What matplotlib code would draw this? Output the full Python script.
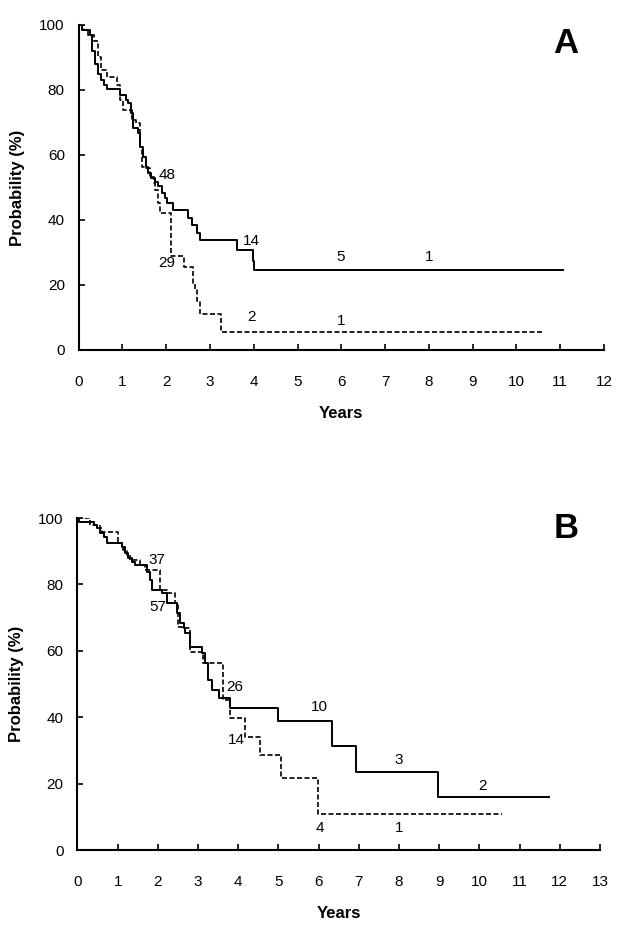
import numpy as np
import matplotlib
matplotlib.use("Agg")
import matplotlib.pyplot as plt

plt.rcParams['font.family'] = ['Liberation Sans', 'DejaVu Sans']

# ---- Panel A : survival curves (years, probability %) ----
a_solid_t = [0, 0.08, 0.25, 0.30, 0.37, 0.45, 0.52, 0.58, 0.64, 0.94, 1.07, 1.13,
             1.20, 1.25, 1.36, 1.40, 1.48, 1.54, 1.59, 1.65, 1.74, 1.82, 1.90, 1.97,
             2.01, 2.16, 2.49, 2.58, 2.70, 2.77, 3.61, 3.98, 4.01]
a_solid_v = [100, 98.5, 97, 92, 88, 85, 83, 81.5, 80.3, 78.5, 76.9, 75.9,
             72.8, 68.2, 66.7, 62.6, 59.5, 56.4, 54.4, 52.8, 51.8, 50.3, 48.2, 46.7,
             45.1, 43.0, 40.5, 38.5, 35.9, 33.8, 30.8, 27.5, 24.6]
a_solid_end = 11.07

a_dash_t = [0, 0.10, 0.22, 0.35, 0.45, 0.50, 0.64, 0.87, 0.94, 1.02, 1.21, 1.31,
            1.40, 1.44, 1.54, 1.63, 1.71, 1.74, 1.82, 1.86, 2.12, 2.40, 2.62, 2.66,
            2.71, 2.77, 3.25]
a_dash_v = [100, 98.5, 97, 95, 90, 86, 84.1, 81.5, 76.9, 73.8, 70.8, 69.8,
            62.6, 56.4, 55.9, 53.3, 51.3, 49.2, 45.1, 42.1, 29.0, 25.6, 20.5, 18.5,
            15.0, 11.2, 5.5]
a_dash_end = 10.58

a_labels = ["48", "29", "14", "5", "1", "2", "1"]
a_lab_t = [2.02, 2.01, 3.95, 5.99, 8.01, 3.95, 5.99]
a_lab_v = [53.8, 26.7, 33.6, 28.5, 28.5, 10.0, 9.0]

# ---- Panel B ----
b_solid_t = [0, 0.05, 0.40, 0.48, 0.56, 0.65, 0.73, 1.10, 1.19, 1.27, 1.35, 1.43,
             1.74, 1.81, 1.85, 2.10, 2.24, 2.47, 2.55, 2.64, 2.68, 2.80, 3.09, 3.18,
             3.26, 3.34, 3.51, 3.80, 4.98, 6.33, 6.93, 8.96]
b_solid_v = [100, 98.8, 97.9, 96.9, 95.4, 94.4, 92.4, 91.4, 89.4, 87.9, 86.8, 85.8,
             83.8, 81.3, 78.3, 77.3, 74.3, 71.3, 68.3, 66.8, 65.3, 61.2, 59.2, 56.2,
             51.2, 48.2, 45.7, 42.7, 39.0, 31.3, 23.4, 16.0]
b_solid_end = 11.74

b_dash_t = [0, 0.31, 0.56, 0.60, 1.00, 1.10, 1.14, 1.23, 1.31, 1.56, 1.68, 2.06,
            2.22, 2.43, 2.51, 2.60, 2.80, 3.13, 3.61, 3.80, 4.17, 4.54, 5.06, 5.98]
b_dash_v = [100, 97.9, 96.9, 95.9, 92.4, 91.4, 90.4, 88.9, 87.3, 85.8, 84.3, 78.3,
            77.3, 74.3, 67.3, 66.8, 59.7, 56.2, 45.2, 39.9, 34.1, 28.6, 21.6, 10.9]
b_dash_end = 10.55

b_labels = ["37", "57", "26", "14", "10", "3", "2", "4", "1"]
b_lab_t = [1.97, 1.99, 3.92, 3.95, 6.03, 8.0, 10.08, 6.02, 8.0]
b_lab_v = [87.3, 73.1, 49.0, 33.1, 43.0, 27.1, 19.3, 6.5, 6.5]


def km(ax, t, v, end, **kw):
    tt = list(t) + [end]
    vv = list(v) + [v[-1]]
    ax.step(tt, vv, where="post", color="black", **kw)


def style(ax, xmax):
    ax.set_xlim(0, xmax)
    ax.set_ylim(0, 100)
    ax.set_xticks(range(0, xmax + 1))
    ax.set_yticks(range(0, 101, 20))
    for s in ["top", "right"]:
        ax.spines[s].set_visible(False)
    for s in ["left", "bottom"]:
        ax.spines[s].set_linewidth(1.5)
    ax.tick_params(axis="x", direction="in", length=4, width=1.2, pad=18, labelsize=11)
    ax.tick_params(axis="y", direction="in", length=4, width=1.2, pad=10, labelsize=11)
    ax.set_xlabel("Years", fontsize=12, fontweight="bold", labelpad=12)
    ax.set_ylabel("Probability (%)", fontsize=12, fontweight="bold", labelpad=10)


fig = plt.figure(figsize=(6.29, 9.31), dpi=100)

axA = fig.add_axes([0.1251, 0.6241, 0.8351, 0.3491])
axA.patch.set_alpha(0)
km(axA, a_solid_t, a_solid_v, a_solid_end, lw=1.4)
km(axA, a_dash_t, a_dash_v, a_dash_end, lw=1.2, linestyle=(0, (3, 1.5)))
for s, x, y in zip(a_labels, a_lab_t, a_lab_v):
    axA.text(x, y, s, ha="center", va="center", fontsize=11)
style(axA, 12)
axA.text(11.13, 94.4, "A", ha="center", va="center", fontsize=25, fontweight="bold")

axB = fig.add_axes([0.1231, 0.0870, 0.8308, 0.3566])
axB.patch.set_alpha(0)
km(axB, b_solid_t, b_solid_v, b_solid_end, lw=1.4)
km(axB, b_dash_t, b_dash_v, b_dash_end, lw=1.2, linestyle=(0, (3, 1.5)))
for s, x, y in zip(b_labels, b_lab_t, b_lab_v):
    axB.text(x, y, s, ha="center", va="center", fontsize=11)
style(axB, 13)
axB.text(12.15, 96.9, "B", ha="center", va="center", fontsize=25, fontweight="bold")

fig.savefig("out.png", dpi=100)
